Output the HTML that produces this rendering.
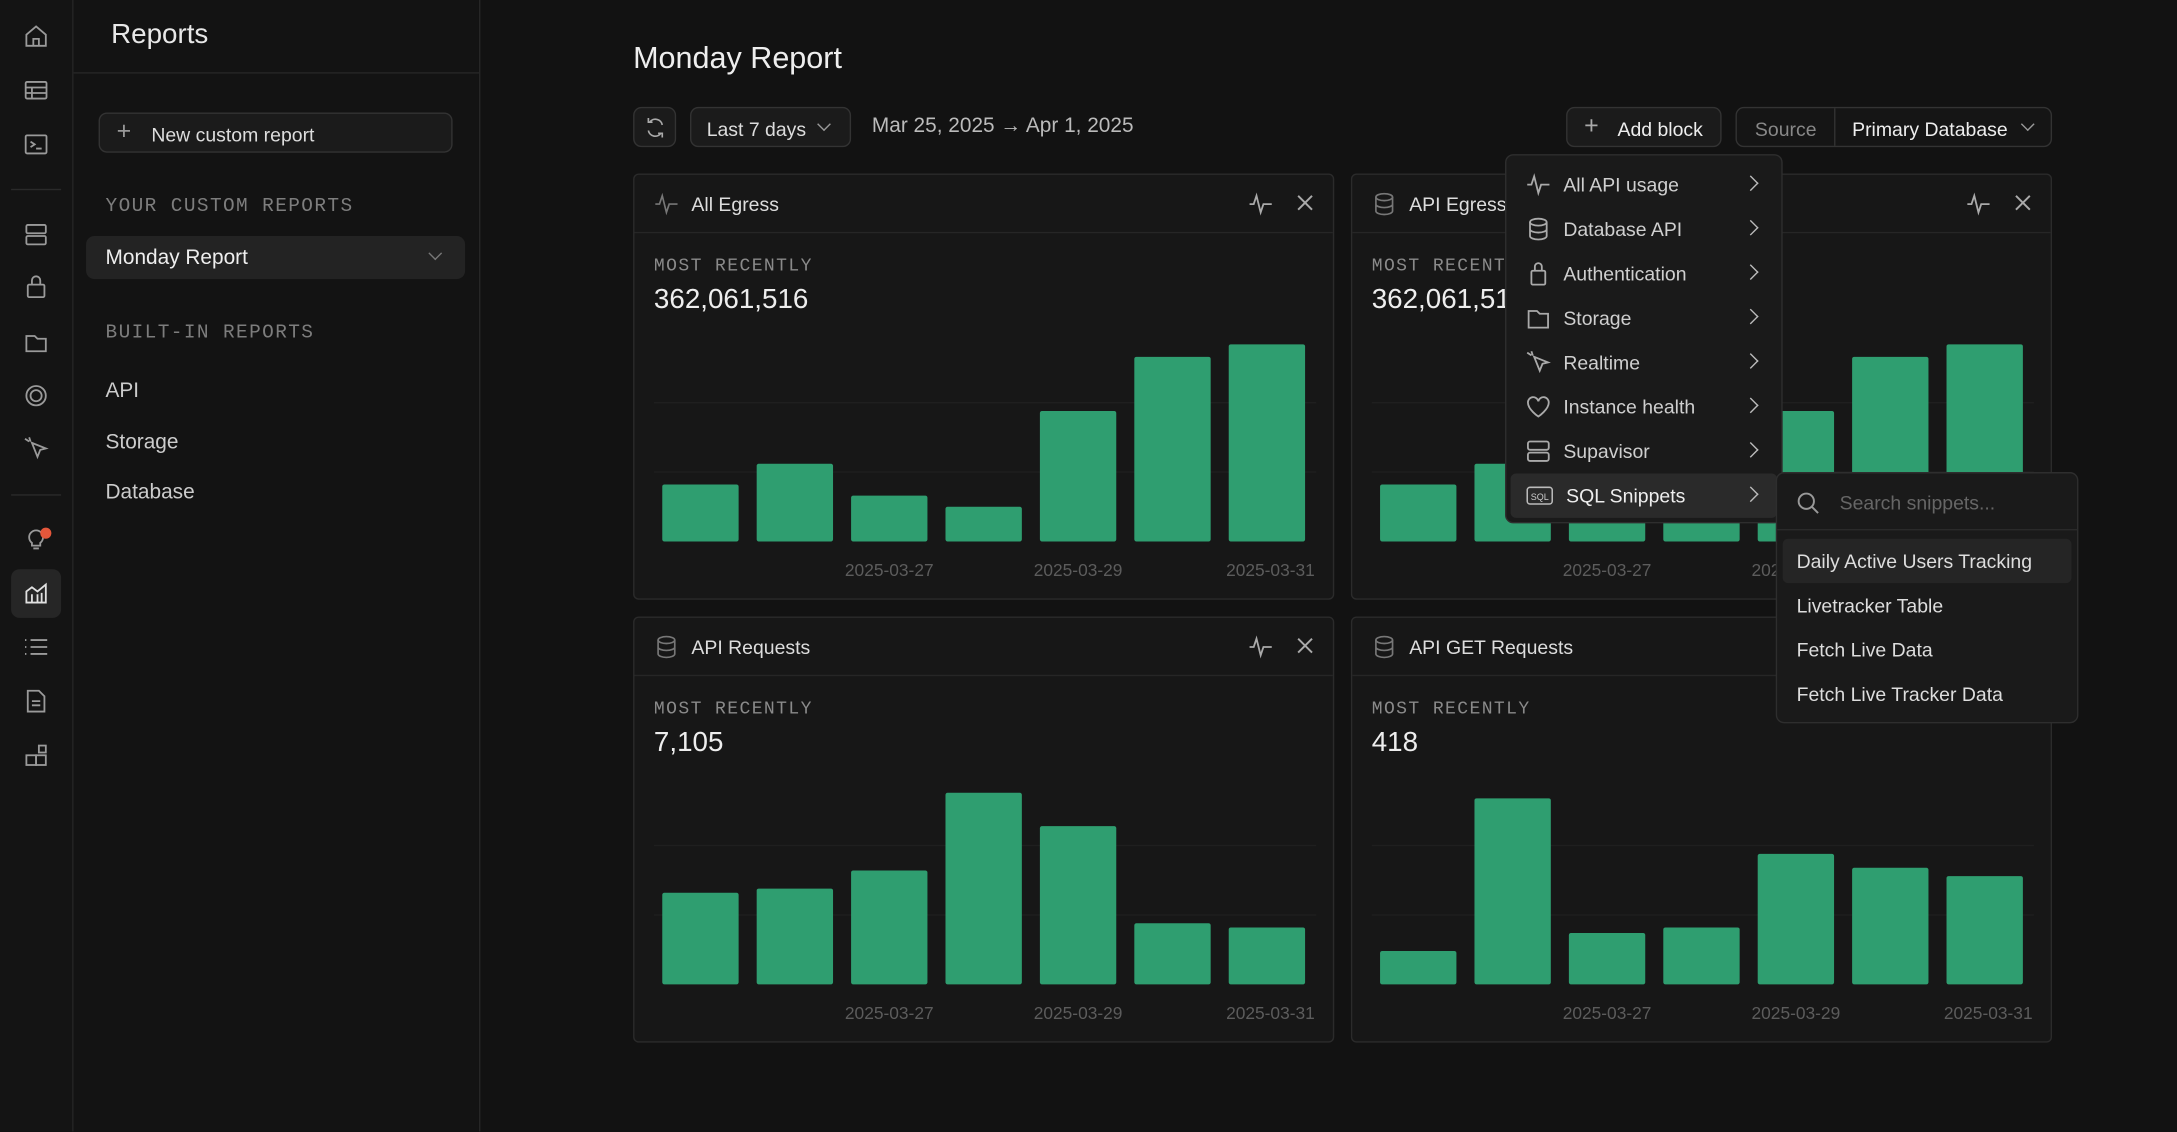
<!DOCTYPE html>
<html><head><meta charset="utf-8">
<style>
html,body{margin:0;padding:0;width:2177px;height:1131px;overflow:hidden;background:#121212;}
#root{position:absolute;left:0;top:0;width:1568px;height:815px;transform:scale(1.38839);transform-origin:0 0;background:#121212;font-family:"Liberation Sans",sans-serif;color:#e6e6e6;}
.abs{position:absolute;}
.rail{left:0;top:0;width:52px;height:815px;background:#141414;border-right:1px solid #262626;}
.ri{position:absolute;left:17px;width:18px;height:18px;}
.side{left:53px;top:0;width:292px;height:815px;background:#131313;border-right:1px solid #262626;}
.mono{font-family:"Liberation Mono",monospace;color:#7d7d7d;font-size:14px;letter-spacing:1px;}
.btn{border:1px solid #333;border-radius:6px;background:#1b1b1b;box-sizing:border-box;}
.card{border:1px solid #2b2b2b;border-radius:4px;background:#171717;box-sizing:border-box;width:505px;height:307px;}
.card .hd{position:absolute;left:0;top:0;right:0;height:41px;border-bottom:1px solid #262626;}
.card .tt{position:absolute;left:41px;top:13px;font-size:14px;color:#ddd;}
.card .ml{position:absolute;left:14px;top:58px;font-family:"Liberation Mono",monospace;color:#8a8a8a;font-size:13px;letter-spacing:1px;}
.card .val{position:absolute;left:14px;top:79px;font-size:20px;color:#eee;}
.menu{background:#1a1a1a;border:1px solid #2e2e2e;border-radius:6px;box-sizing:border-box;}
.mi{position:absolute;left:0;right:0;height:32px;font-size:14px;color:#cfcfcf;}
.mi span.t{position:absolute;left:41px;top:8px;}
.mi .ch{position:absolute;right:18px;top:11px;width:7px;height:7px;border-right:1.5px solid #bbb;border-top:1.5px solid #bbb;transform:rotate(45deg);}
.mi svg{position:absolute;left:14px;top:7px;}
.si{position:absolute;left:14px;font-size:14px;color:#ddd;}
</style></head><body>
<div id="root">
<div class="abs rail">
<svg class="ri" style="top:17px" viewBox="0 0 18 18" fill="none" stroke="#9a9a9a" stroke-width="1.3"><path d="M2 8L9 2l7 6v8H2z M7 16v-5h4v5"/></svg>
<svg class="ri" style="top:56px" viewBox="0 0 18 18" fill="none" stroke="#9a9a9a" stroke-width="1.3"><rect x="1.5" y="3" width="15" height="12" rx="1"/><path d="M1.5 7h15M1.5 11h15M6 7v8"/></svg>
<svg class="ri" style="top:95px" viewBox="0 0 18 18" fill="none" stroke="#9a9a9a" stroke-width="1.3"><rect x="1.5" y="2.5" width="15" height="13" rx="1"/><path d="M5 7l3 2-3 2M9 12h4"/></svg>
<div class="abs" style="left:8px;top:136px;width:36px;height:1px;background:#2a2a2a"></div>
<svg class="ri" style="top:160px" viewBox="0 0 18 18" fill="none" stroke="#9a9a9a" stroke-width="1.3"><rect x="2" y="2" width="14" height="6" rx="1"/><rect x="2" y="10" width="14" height="6" rx="1"/></svg>
<svg class="ri" style="top:198px" viewBox="0 0 18 18" fill="none" stroke="#9a9a9a" stroke-width="1.3"><rect x="3" y="7" width="12" height="9" rx="1"/><path d="M6 7V4a3 3 0 016 0v3"/></svg>
<svg class="ri" style="top:237px" viewBox="0 0 18 18" fill="none" stroke="#9a9a9a" stroke-width="1.3"><path d="M2 5h6l2 2h6v9H2z"/></svg>
<svg class="ri" style="top:276px" viewBox="0 0 18 18" fill="none" stroke="#9a9a9a" stroke-width="1.3"><circle cx="9" cy="9" r="7"/><circle cx="9" cy="9" r="4"/></svg>
<svg class="ri" style="top:314px" viewBox="0 0 18 18" fill="none" stroke="#9a9a9a" stroke-width="1.3"><path d="M6 5l10 4-4 1-2 5z M1 2l3 2M4 1l1 3"/></svg>
<div class="abs" style="left:8px;top:356px;width:36px;height:1px;background:#2a2a2a"></div>
<svg class="ri" style="top:379px" viewBox="0 0 18 18" fill="none" stroke="#9a9a9a" stroke-width="1.3"><path d="M6 12a5 5 0 116 0v2H6z M7 16h4"/></svg>
<div class="abs" style="left:29px;top:380px;width:8px;height:8px;border-radius:50%;background:#e5573b"></div>
<div class="abs" style="left:8px;top:410px;width:36px;height:35px;border-radius:6px;background:#262626"></div>
<svg class="ri" style="top:418px" viewBox="0 0 18 18" fill="none" stroke="#e0e0e0" stroke-width="1.3"><path d="M2 16V8l4-3 4 3 6-5v13z M6 10v6M10 10v6M13 9v7"/></svg>
<svg class="ri" style="top:457px" viewBox="0 0 18 18" fill="none" stroke="#9a9a9a" stroke-width="1.3"><path d="M5 4h12M5 9h12M5 14h12M1 4h1M1 9h1M1 14h1"/></svg>
<svg class="ri" style="top:496px" viewBox="0 0 18 18" fill="none" stroke="#9a9a9a" stroke-width="1.3"><path d="M3 1.5h8l4 4v11H3z M6 9h6M6 12h6"/></svg>
<svg class="ri" style="top:535px" viewBox="0 0 18 18" fill="none" stroke="#9a9a9a" stroke-width="1.3"><rect x="2" y="9" width="7" height="7"/><rect x="9" y="9" width="7" height="7"/><rect x="11" y="2" width="5" height="5"/></svg>
</div>

<div class="abs side">
<div class="abs" style="left:27px;top:14px;font-size:20px;color:#e8e8e8">Reports</div>
<div class="abs" style="left:0;top:52px;width:292px;height:1px;background:#262626"></div>
<div class="abs btn" style="left:18px;top:81px;width:255px;height:29px;">
<span class="abs" style="left:12px;top:2px;font-size:18px;color:#999">+</span>
<span class="abs" style="left:37px;top:7px;font-size:14px;color:#ddd">New custom report</span></div>
<div class="abs mono" style="left:23px;top:141px">YOUR CUSTOM REPORTS</div>
<div class="abs" style="left:9px;top:170px;width:273px;height:31px;border-radius:6px;background:#232323">
<span class="abs" style="left:14px;top:7px;font-size:15px;color:#eee">Monday Report</span>
<span class="abs" style="right:18px;top:9px;width:6px;height:6px;border-right:1.3px solid #777;border-bottom:1.3px solid #777;transform:rotate(45deg)"></span></div>
<div class="abs mono" style="left:23px;top:232px">BUILT-IN REPORTS</div>
<div class="abs" style="left:23px;top:273px;font-size:15px;color:#ccc">API</div>
<div class="abs" style="left:23px;top:310px;font-size:15px;color:#ccc">Storage</div>
<div class="abs" style="left:23px;top:346px;font-size:15px;color:#ccc">Database</div>
</div>

<div class="abs" style="left:456px;top:29px;font-size:22px;color:#eee">Monday Report</div>
<div class="abs btn" style="left:456px;top:77px;width:31px;height:29px">
<svg class="abs" style="left:7px;top:6px" width="16" height="16" viewBox="0 0 16 16" fill="none" stroke="#aaa" stroke-width="1.2"><path d="M13 6a5 5 0 00-9-2M3 10a5 5 0 009 2M3 1v3h3M13 15v-3h-3"/></svg></div>
<div class="abs btn" style="left:497px;top:77px;width:116px;height:29px">
<span class="abs" style="left:11px;top:7px;font-size:14px;color:#ddd">Last 7 days</span>
<span class="abs" style="left:92px;top:8px;width:6px;height:6px;border-right:1.3px solid #999;border-bottom:1.3px solid #999;transform:rotate(45deg)"></span></div>
<div class="abs" style="left:628px;top:82px;font-size:15px;color:#bbb">Mar 25, 2025 → Apr 1, 2025</div>
<div class="abs btn" style="left:1128px;top:77px;width:112px;height:29px">
<span class="abs" style="left:12px;top:2px;font-size:18px;color:#aaa">+</span>
<span class="abs" style="left:36px;top:7px;font-size:14px;color:#eee">Add block</span></div>
<div class="abs btn" style="left:1250px;top:77px;width:228px;height:29px;background:#151515">
<span class="abs" style="left:13px;top:7px;font-size:14px;color:#888">Source</span>
<span class="abs" style="left:70px;top:0;width:1px;height:27px;background:#333"></span>
<span class="abs" style="left:83px;top:7px;font-size:14px;color:#eee">Primary Database</span>
<span class="abs" style="left:206px;top:8px;width:6px;height:6px;border-right:1.3px solid #999;border-bottom:1.3px solid #999;transform:rotate(45deg)"></span></div>

<div id="cards"></div>

<div class="abs menu" style="left:1084px;top:111px;width:200px;height:266px">
<div class="mi" style="top:5px"><svg width="18" height="18" viewBox="0 0 18 18" fill="none" stroke="#aaa" stroke-width="1.3"><path d="M1 9h3l2-6 3 12 2-6h6"/></svg><span class="t">All API usage</span><span class="ch"></span></div>
<div class="mi" style="top:37px"><svg width="18" height="18" viewBox="0 0 18 18" fill="none" stroke="#aaa" stroke-width="1.3"><ellipse cx="9" cy="4" rx="6" ry="2.5"/><path d="M3 4v10c0 1.4 2.7 2.5 6 2.5s6-1.1 6-2.5V4M3 9c0 1.4 2.7 2.5 6 2.5s6-1.1 6-2.5"/></svg><span class="t">Database API</span><span class="ch"></span></div>
<div class="mi" style="top:69px"><svg width="18" height="18" viewBox="0 0 18 18" fill="none" stroke="#aaa" stroke-width="1.3"><rect x="4" y="7" width="10" height="10" rx="1"/><path d="M6.5 7V4a2.5 2.5 0 015 0v3"/></svg><span class="t">Authentication</span><span class="ch"></span></div>
<div class="mi" style="top:101px"><svg width="18" height="18" viewBox="0 0 18 18" fill="none" stroke="#aaa" stroke-width="1.3"><path d="M2 4h6l2 2h6v10H2z"/></svg><span class="t">Storage</span><span class="ch"></span></div>
<div class="mi" style="top:133px"><svg width="18" height="18" viewBox="0 0 18 18" fill="none" stroke="#aaa" stroke-width="1.3"><path d="M6 5l10 4-4 1-2 5z M1 2l3 2M4 1l1 3"/></svg><span class="t">Realtime</span><span class="ch"></span></div>
<div class="mi" style="top:165px"><svg width="18" height="18" viewBox="0 0 18 18" fill="none" stroke="#aaa" stroke-width="1.3"><path d="M9 16S1.5 11 1.5 6a3.8 3.8 0 017.5-1 3.8 3.8 0 017.5 1C16.5 11 9 16 9 16z"/></svg><span class="t">Instance health</span><span class="ch"></span></div>
<div class="mi" style="top:197px"><svg width="18" height="18" viewBox="0 0 18 18" fill="none" stroke="#aaa" stroke-width="1.3"><rect x="1.5" y="2" width="15" height="6" rx="1.5"/><rect x="1.5" y="10" width="15" height="6" rx="1.5"/></svg><span class="t">Supavisor</span><span class="ch"></span></div>
<div class="mi" style="top:229px;left:3px;right:3px;background:#2a2a2a;border-radius:4px"><svg style="left:11px" width="20" height="18" viewBox="0 0 20 18" fill="none" stroke="#bbb" stroke-width="1.1"><rect x="1" y="3" width="18" height="12" rx="2"/><text x="10" y="12" font-size="6.5" fill="#ccc" stroke="none" text-anchor="middle" font-family="Liberation Sans">SQL</text></svg><span class="t" style="left:40px;color:#eee">SQL Snippets</span><span class="ch" style="right:15px"></span></div>
</div>

<div class="abs menu" style="left:1279px;top:340px;width:218px;height:181px">
<svg class="abs" style="left:14px;top:13px" width="17" height="17" viewBox="0 0 17 17" fill="none" stroke="#999" stroke-width="1.4"><circle cx="7" cy="7" r="5.5"/><path d="M11 11l4.5 4.5"/></svg>
<div class="abs" style="left:45px;top:13px;font-size:14px;color:#666">Search snippets...</div>
<div class="abs" style="left:0;top:40px;width:216px;height:1px;background:#2a2a2a"></div>
<div class="abs" style="left:4px;top:47px;width:208px;height:32px;background:#252525;border-radius:4px"><span class="abs" style="left:10px;top:8px;font-size:14px;color:#ddd">Daily Active Users Tracking</span></div>
<div class="si" style="top:87px">Livetracker Table</div>
<div class="si" style="top:119px">Fetch Live Data</div>
<div class="si" style="top:151px">Fetch Live Tracker Data</div>
</div>
</div>

<script>
const cardTitles=["All Egress","API Egress","API Requests","API GET Requests"];
const cardValues=["362,061,516","362,061,516","7,105","418"];
const categories=["2025-03-25","2025-03-26","2025-03-27","2025-03-28","2025-03-29","2025-03-30","2025-03-31"];
const tickLabels=["2025-03-27","2025-03-29","2025-03-31"];
const egressSeries=[41,56,33,25,94,133,142];
const apiEgressSeries=[41,56,33,25,94,133,142];
const requestsSeries=[66,69,82,138,114,44,41];
const getRequestsSeries=[24,134,37,41,94,84,78];
const allSeries=[egressSeries,apiEgressSeries,requestsSeries,getRequestsSeries];
const yMax=150;
const cardPos=[[456,125],[973,125],[456,444],[973,444]];
const NS="http://www.w3.org/2000/svg";
const root=document.getElementById('root');
const plotH=150, plotBase=264, bandW=68, barW=55, plotLeft=20;
function yScale(v){return plotBase-v/yMax*plotH;}
function xScale(i){return plotLeft+i*bandW;}
cardTitles.forEach((t,ci)=>{
  const c=document.createElement('div');
  c.className='abs card';
  c.style.left=cardPos[ci][0]+'px';c.style.top=cardPos[ci][1]+'px';
  
  
  const icon=ci==0?'<path d="M1 9h3l2-6 3 12 2-6h6"/>':'<ellipse cx="9" cy="4" rx="6" ry="2.5"/><path d="M3 4v10c0 1.4 2.7 2.5 6 2.5s6-1.1 6-2.5V4M3 9c0 1.4 2.7 2.5 6 2.5s6-1.1 6-2.5"/>';
  c.innerHTML='<div class="hd"><svg style="position:absolute;left:14px;top:12px" width="18" height="18" viewBox="0 0 18 18" fill="none" stroke="#777" stroke-width="1.2">'+icon+'</svg><div class="tt">'+t+'</div>'+
   '<svg style="position:absolute;left:442px;top:12px" width="18" height="18" viewBox="0 0 18 18" fill="none" stroke="#aaa" stroke-width="1.3"><path d="M1 9h3l2-6 3 12 2-6h6"/></svg>'+
   '<svg style="position:absolute;left:477px;top:14px" width="12" height="12" viewBox="0 0 12 12" stroke="#aaa" stroke-width="1.4"><path d="M1 1l10 10M11 1L1 11"/></svg></div>'+
   '<div class="ml">MOST RECENTLY</div><div class="val">'+cardValues[ci]+'</div>';
  const svg=document.createElementNS(NS,'svg');
  svg.setAttribute('width','505');svg.setAttribute('height','307');
  svg.style.position='absolute';svg.style.left='0';svg.style.top='0';
  
  
  [50,100].forEach(g=>{
    const l=document.createElementNS(NS,'line');
    l.setAttribute('x1',14);l.setAttribute('x2',491);
    l.setAttribute('y1',yScale(g));l.setAttribute('y2',yScale(g));
    l.setAttribute('stroke','#1f1f1f');
    
    
    svg.appendChild(l);
  });
  allSeries[ci].forEach((v,i)=>{
    const r=document.createElementNS(NS,'rect');
    r.setAttribute('x',xScale(i));r.setAttribute('width',barW);
    r.setAttribute('y',yScale(v));r.setAttribute('height',plotBase-yScale(v));
    r.setAttribute('rx',1.5);
    r.setAttribute('fill','#2f9e70');
    
    
    svg.appendChild(r);
  });
  tickLabels.forEach(lbl=>{
    const i=categories.indexOf(lbl);
    const tx=document.createElementNS(NS,'text');
    const last=i==categories.length-1;
    tx.setAttribute('x',last?490:xScale(i)+barW/2);
    tx.setAttribute('y',plotBase+25);
    tx.setAttribute('text-anchor',last?'end':'middle');
    tx.setAttribute('font-size','12.5');
    tx.setAttribute('fill','#5c5c5c');
    tx.setAttribute('font-family','Liberation Sans, sans-serif');
    tx.textContent=lbl;
    
    
    svg.appendChild(tx);
  });
  c.appendChild(svg);
  root.insertBefore(c,document.getElementById('cards'));
});
</script>
</body></html>
